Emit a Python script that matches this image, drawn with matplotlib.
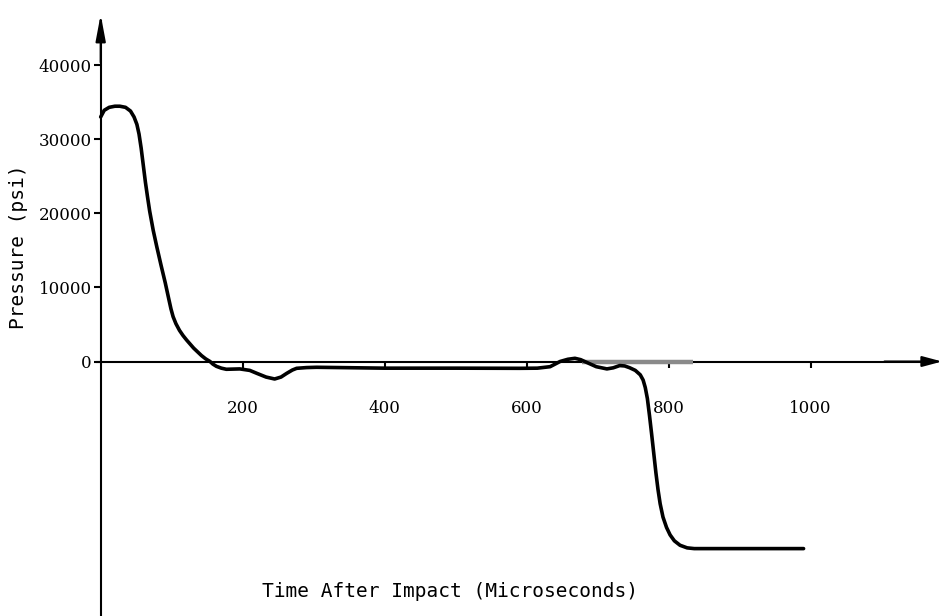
import matplotlib
matplotlib.use('Agg')
import matplotlib.pyplot as plt

# time after impact (microseconds) and pressure (psi)
time_us = [0, 5, 12, 20, 27, 35, 42, 47, 51, 54, 57, 60, 63, 66, 69, 74, 79,
           85, 91, 96, 99, 102, 106, 111, 116, 121, 131, 142, 148, 154, 158,
           163, 170, 177, 196, 210, 220, 233, 245, 254, 262, 270, 276, 290,
           304, 400, 500, 590, 615, 633, 647, 658, 668, 676, 684, 698, 713,
           722, 731, 738, 745, 753, 760, 764, 767, 770, 773, 776, 779, 782,
           785, 788, 792, 797, 802, 808, 816, 826, 836, 990]
pressure_psi = [33000, 33900, 34300, 34450, 34450, 34300, 33800, 33000, 32000,
                30700, 28800, 26500, 24200, 22200, 20300, 17700, 15500, 13000,
                10600, 8400, 7100, 6050, 5100, 4200, 3500, 2900, 1800, 800, 350,
                0, -350, -650, -900, -1050, -1000, -1200, -1600, -2100, -2360,
                -2100, -1600, -1150, -920, -820, -780, -900, -900, -920, -900,
                -700, 0, 300, 430, 250, -100, -700, -1000, -850, -550, -600,
                -840, -1200, -1800, -2500, -3500, -5000, -7300, -9800, -12400,
                -15000, -17300, -19200, -21000, -22400, -23400, -24200, -24800,
                -25150, -25250, -25250]

# grey stroke lying on the time axis
gray_time = [678, 834]
gray_pressure = [0, 0]

x_ticks = [200, 400, 600, 800, 1000]
y_ticks = [0, 10000, 20000, 30000, 40000]


def plotting():
    fig = plt.figure(figsize=(9.46, 6.16), dpi=100)
    ax = fig.add_axes([0, 0, 1, 1])
    ax.set_xlim(-141.8, 1190.6)
    ax.set_ylim(-34345, 48785)

    for side in ['top', 'right']:
        ax.spines[side].set_visible(False)
    ax.spines['left'].set_position(('data', 0))
    ax.spines['bottom'].set_position(('data', 0))
    ax.spines['left'].set_linewidth(1.5)
    ax.spines['bottom'].set_linewidth(1.5)
    ax.spines['left'].set_bounds(-34345, 46000)
    ax.spines['bottom'].set_bounds(-5, 1170)

    # arrow heads on the axes
    ax.annotate('', xy=(0, 47200), xytext=(0, 40000),
                arrowprops=dict(arrowstyle='-|>,head_length=0.8,head_width=0.15',
                                lw=1.5, color='black', mutation_scale=20))
    ax.annotate('', xy=(1189, 0), xytext=(1100, 0),
                arrowprops=dict(arrowstyle='-|>,head_length=0.6,head_width=0.16',
                                lw=1.5, color='black', mutation_scale=20))

    ax.plot(gray_time, gray_pressure, color='#8a8a8a', lw=3.2,
            solid_capstyle='butt', zorder=3)
    ax.plot(time_us, pressure_psi, color='black', lw=2.6,
            solid_joinstyle='round', solid_capstyle='round', zorder=4)

    ax.set_xticks(x_ticks)
    ax.set_xticklabels([str(v) for v in x_ticks])
    ax.set_yticks(y_ticks)
    ax.set_yticklabels([str(v) for v in y_ticks])
    ax.tick_params(axis='x', direction='out', length=4.5, width=1.5, pad=23,
                   labelsize=12)
    ax.tick_params(axis='y', direction='out', length=5, width=1.5, pad=1.5,
                   labelsize=12)
    for lab in ax.get_xticklabels() + ax.get_yticklabels():
        lab.set_fontfamily('DejaVu Serif')

    fig.text(449.5 / 946, 1 - 591.5 / 616, 'Time After Impact (Microseconds)',
             family='DejaVu Sans Mono', fontsize=14, ha='center', va='center')
    fig.text(19 / 946, 1 - 247 / 616, 'Pressure (psi)',
             family='DejaVu Sans Mono', fontsize=14, rotation=90,
             ha='center', va='center')

    fig.savefig('out.png', dpi=100)


plotting()
